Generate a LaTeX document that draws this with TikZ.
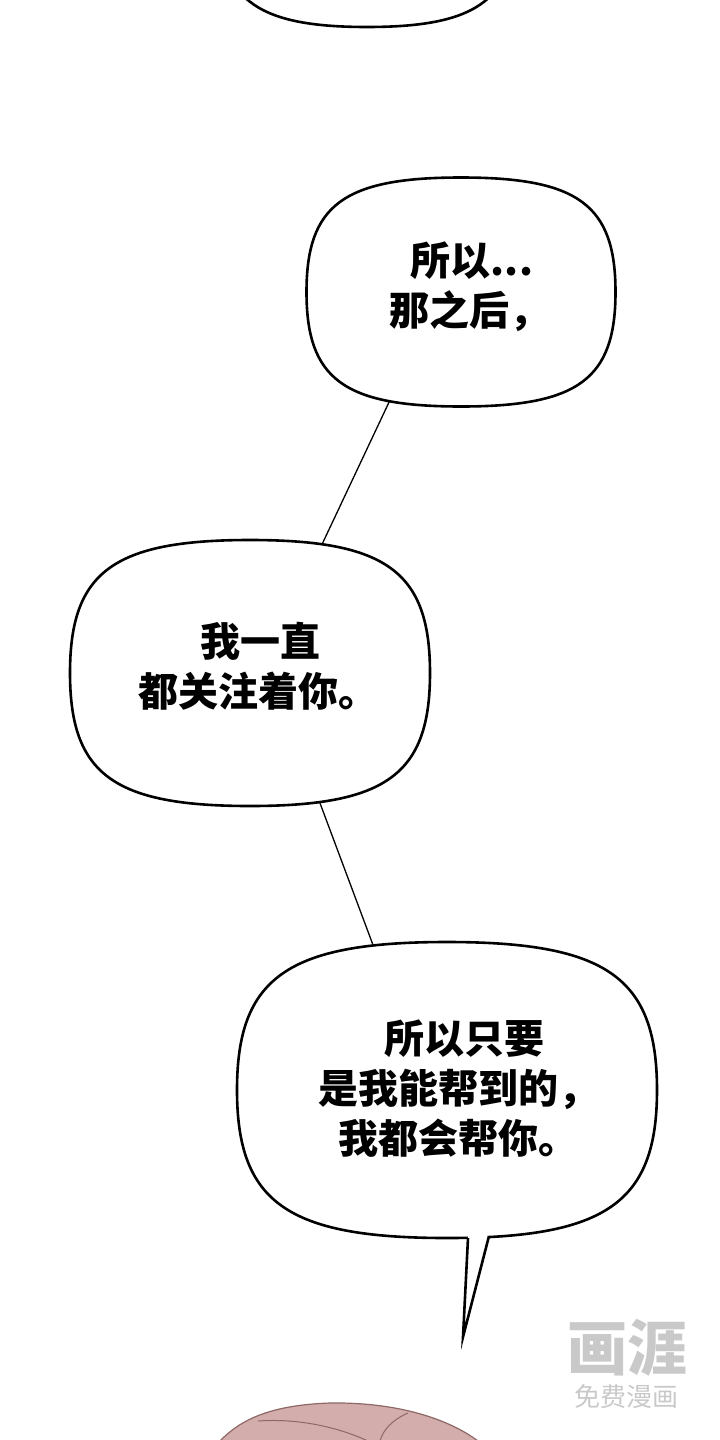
\documentclass[tikz,border=0pt]{standalone}
\usepackage{fontspec}
\newfontfamily\cjk{Noto Sans CJK SC}
\usetikzlibrary{calc,backgrounds}
\definecolor{skin}{HTML}{D3ADAC}
\definecolor{skinline}{HTML}{8E6866}
\newcommand\sq{0.76}
\newcommand\squircle[1]{%
  \filldraw[bubble line] (#1.east)
    .. controls ($(#1.east)!\sq!(#1.north east)$) and ($(#1.north)!\sq!(#1.north east)$) .. (#1.north)
    .. controls ($(#1.north)!\sq!(#1.north west)$) and ($(#1.west)!\sq!(#1.north west)$) .. (#1.west)
    .. controls ($(#1.west)!\sq!(#1.south west)$) and ($(#1.south)!\sq!(#1.south west)$) .. (#1.south)
    .. controls ($(#1.south)!\sq!(#1.south east)$) and ($(#1.east)!\sq!(#1.south east)$) .. (#1.east) -- cycle;}
\tikzset{
  bubble/.style={outer sep=0pt, inner sep=0pt},
  say/.style={align=center, inner sep=0pt, font=\cjk\bfseries\fontsize{40pt}{50pt}\selectfont},
  bubble line/.style={line width=2.6pt, draw=black, fill=white},
  link/.style={line width=1.3pt},
  logo/.style={text=gray!42},
}
\begin{document}
\begin{tikzpicture}[x=1pt,y=-1pt]
	 \useasboundingbox (0,0) rectangle (720,1440);
	 \node (T) [bubble, minimum width=300pt, minimum height=240pt] at (367,-93) {};
	 \node (A) [bubble, minimum width=309pt, minimum height=229pt] at (461,292) {};
	 \node (B) [bubble, minimum width=360pt, minimum height=266pt] at (250,673) {};
	 \node (C) [bubble, minimum width=420pt, minimum height=296pt] at (447,1090) {};
	 \node (A') [say] at (469,287)  {\hspace*{6pt}所以...\\那之后，};
	 \node (B') [say] at (258,666)  {\hspace*{4pt}我一直\\都关注着你。};
	 \node (C') [say] at (458,1089) {\hspace*{12pt}所以只要\\是我能帮到的，\\我都会帮你。};
	 \coordinate (tip) at (463,1337);

	 \begin{scope}[on background layer]
	 \draw[link] ($(A.south)+(-64.6,-20)$) -- ($(B.north)+(67,15)$);
	 \draw[link] ($(B.south)+(63.6,-20)$)  -- ($(C.north)+(-69.5,15)$);
	 \squircle{T}
	 \squircle{A}
	 \squircle{B}
	 \squircle{C}
	 \end{scope}

	 \fill[white] ($(C.south)+(21,-3)$) -- (tip) -- ($(C.south)+(42,-4)$) -- cycle;
	 \draw[line width=2.6pt, line join=miter] ($(C.south)+(21,0)$) -- (tip) -- ($(C.south)+(42,-2)$);

	 \filldraw[fill=skin, draw=skinline, line width=1.2pt] (220,1441) .. controls (240,1420) and (270,1405) .. (330,1403) .. controls (400,1402) and (450,1420) .. (478,1441) -- cycle;
	 \draw[skinline, line width=1pt] (258,1421) .. controls (300,1418) and (340,1428) .. (368,1441);
	 \draw[skinline, line width=1pt] (408,1413) .. controls (392,1420) and (383,1430) .. (380,1441);

	 \node (W)  at (627,1348) [logo, font=\cjk\bfseries\fontsize{60pt}{60pt}\selectfont] {画涯};
	 \node (W') at (626,1397) [logo, font=\cjk\fontsize{26pt}{26pt}\selectfont] {免费漫画};
\end{tikzpicture}
\end{document}
